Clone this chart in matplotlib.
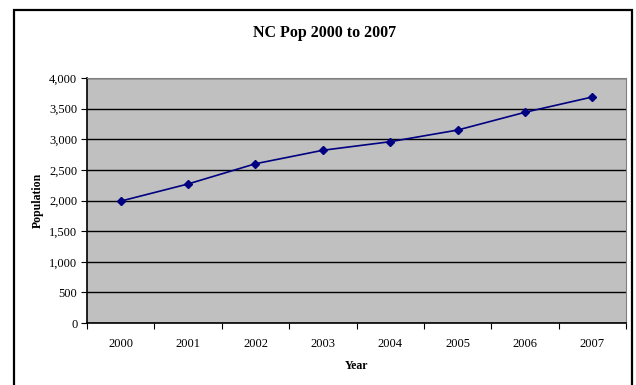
import matplotlib
matplotlib.use("Agg")
import matplotlib.pyplot as plt
from matplotlib.patches import Rectangle
from matplotlib.ticker import FuncFormatter, FixedLocator, NullFormatter

years = ["2000", "2001", "2002", "2003", "2004", "2005", "2006", "2007"]
population = [1990, 2270, 2600, 2820, 2960, 3150, 3440, 3690]

W, H = 636, 385
plt.rcParams["font.family"] = ["Liberation Serif", "DejaVu Serif"]

fig = plt.figure(figsize=(W / 100, H / 100), dpi=100)

# chart border, runs off the bottom edge
fig.patches.append(Rectangle((14 / W, -0.1), (632 - 14) / W, 1.1 - 10 / H,
                             transform=fig.transFigure, fill=False,
                             edgecolor="black", linewidth=1.6, clip_on=False))

ax = fig.add_axes([87 / W, 1 - 323 / H, (626 - 87) / W, (323 - 78) / H])
ax.set_facecolor("#C0C0C0")

x = list(range(len(years)))
ax.plot(x, population, color="#000080", linewidth=1.2, marker="D",
        markersize=4.5, markerfacecolor="#000080", markeredgecolor="#000080",
        zorder=3)

ax.set_xlim(-0.5, len(years) - 0.5)
ax.set_ylim(0, 4000)
ax.set_yticks(range(0, 4001, 500))
ax.yaxis.set_major_formatter(FuncFormatter(lambda v, p: f"{int(v):,}"))
ax.grid(axis="y", color="black", linewidth=1)
ax.set_axisbelow(True)

# ticks sit between categories, labels centred under each point
ax.xaxis.set_major_locator(FixedLocator([i - 0.5 for i in range(len(years) + 1)]))
ax.xaxis.set_major_formatter(NullFormatter())
ax.xaxis.set_minor_locator(FixedLocator(x))
ax.set_xticklabels(years, minor=True)
ax.tick_params(axis="x", which="minor", length=0, pad=11, labelsize=9)
ax.tick_params(axis="x", which="major", direction="out", length=4, color="black")
ax.tick_params(axis="y", direction="out", length=4, labelsize=9, pad=3)

for side in ("top", "right"):
    ax.spines[side].set_color("#808080")
for side in ("left", "bottom"):
    ax.spines[side].set_color("black")
    ax.spines[side].set_linewidth(1.2)

fig.text(325 / W, 1 - 33 / H, "NC Pop 2000 to 2007", ha="center", va="center",
         fontsize=11.5, fontweight="bold")
ax.set_xlabel("Year", fontsize=8.5, fontweight="bold", labelpad=7)
ax.set_ylabel("Population", fontsize=8.5, fontweight="bold", labelpad=4)

fig.savefig("out.png", dpi=100)
